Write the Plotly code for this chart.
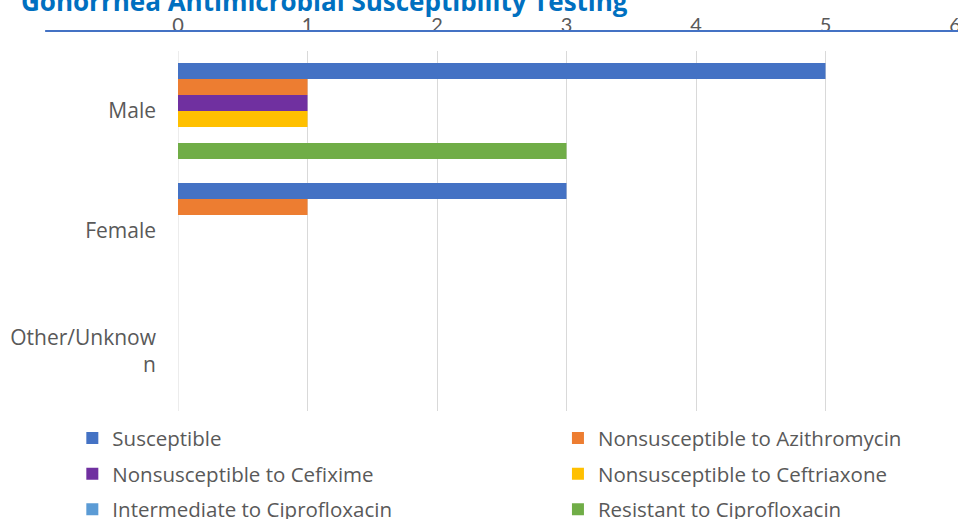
import plotly.graph_objects as go

categories = ["Male", "Female", "Other/Unknow<br>n"]

series_names = [
    "Susceptible",
    "Nonsusceptible to Azithromycin",
    "Nonsusceptible to Cefixime",
    "Nonsusceptible to Ceftriaxone",
    "Intermediate to Ciprofloxacin",
    "Resistant to Ciprofloxacin",
]
series_colors = ["#4472C4", "#ED7D31", "#7030A0", "#FFC000", "#5B9BD5", "#70AD47"]

susceptible = [5, 3, 0]
nonsus_azithromycin = [1, 1, 0]
nonsus_cefixime = [1, 0, 0]
nonsus_ceftriaxone = [1, 0, 0]
intermediate_cipro = [0, 0, 0]
resistant_cipro = [3, 0, 0]

series_values = [
    susceptible,
    nonsus_azithromycin,
    nonsus_cefixime,
    nonsus_ceftriaxone,
    intermediate_cipro,
    resistant_cipro,
]

x_ticks = [0, 1, 2, 3, 4, 5, 6]

fig = go.Figure()
for i, (name, color, values) in enumerate(zip(series_names, series_colors, series_values)):
    # legend is laid out in two columns: even series left, odd series right
    fig.add_trace(
        go.Bar(
            y=categories,
            x=values,
            name=name,
            orientation="h",
            marker=dict(color=color, line=dict(width=0)),
            legend="legend" if i % 2 == 0 else "legend2",
            legendgroup=f"g{i}",
        )
    )

legend_font = dict(family="Open Sans", size=20.5, color="#595959")

fig.update_layout(
    width=958,
    height=519,
    margin=dict(l=178, r=3, t=51, b=108, autoexpand=False),
    plot_bgcolor="white",
    paper_bgcolor="white",
    barmode="group",
    bargap=0.2,
    bargroupgap=0,
    showlegend=True,
    legend=dict(
        orientation="v",
        x=-0.136,
        xanchor="left",
        y=-0.02,
        yanchor="top",
        tracegroupgap=6,
        font=legend_font,
        bgcolor="rgba(0,0,0,0)",
    ),
    legend2=dict(
        orientation="v",
        x=0.489,
        xanchor="left",
        y=-0.02,
        yanchor="top",
        tracegroupgap=6,
        font=legend_font,
        bgcolor="rgba(0,0,0,0)",
    ),
)

fig.update_xaxes(
    side="top",
    range=[0, 6],
    tickvals=x_ticks,
    showgrid=True,
    gridcolor="#D9D9D9",
    gridwidth=1,
    zeroline=False,
    showline=False,
    tickfont=dict(family="Lato", size=20, color="#595959"),
    ticklabelstandoff=14,
    ticklabeloverflow="allow",
    automargin=False,
)

fig.update_yaxes(
    autorange="reversed",
    showgrid=False,
    showline=False,
    tickfont=dict(family="Open Sans", size=21, color="#595959"),
    ticklabelstandoff=21,
    automargin=False,
)

# x=0 gridline (category axis line)
fig.add_shape(
    type="line", xref="x", yref="paper", x0=0, x1=0, y0=0, y1=1,
    line=dict(color="#D9D9D9", width=1), layer="below",
)

# title and rule under it, partially cut off at the top as in the source
fig.add_annotation(
    xref="paper", yref="paper",
    x=-0.205, y=1.139,
    xanchor="left", yanchor="middle",
    text="<b>Gonorrhea Antimicrobial Susceptibility Testing</b>",
    showarrow=False,
    font=dict(family="Open Sans", size=26, color="#0070C0"),
)
fig.add_shape(
    type="line", xref="paper", yref="paper",
    x0=-0.171, x1=1.01, y0=1.0556, y1=1.0556,
    line=dict(color="#4472C4", width=2),
)

fig.write_html(
    "out.html",
    config={"displayModeBar": False},
    post_script="document.body.style.margin='0';document.body.style.overflow='hidden';",
)
